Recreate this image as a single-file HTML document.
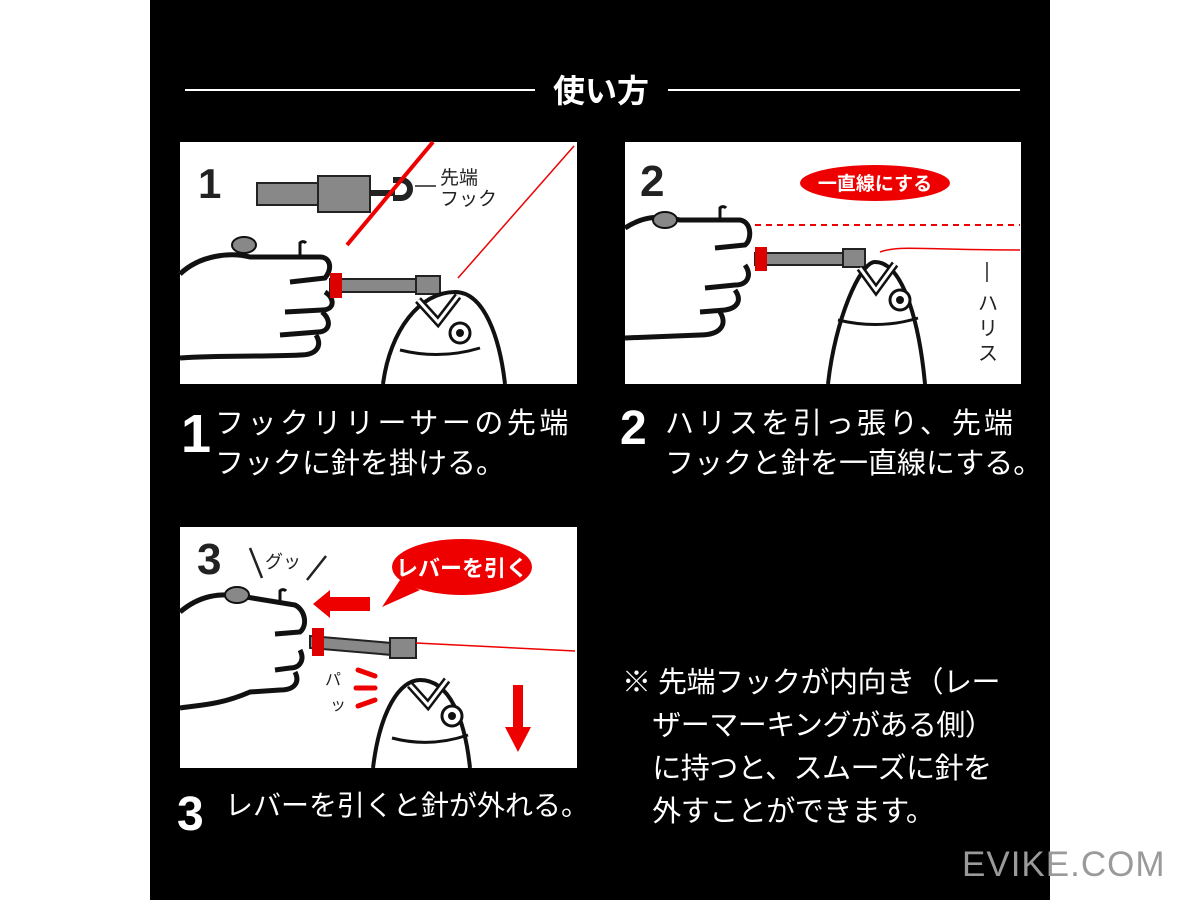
<!DOCTYPE html>
<html><head><meta charset="utf-8"><style>
html,body{margin:0;padding:0;background:#fff}
body{width:1200px;height:900px;position:relative;overflow:hidden;font-family:"Liberation Sans","Noto Sans CJK JP",sans-serif}
.bk{position:absolute;left:150px;top:0;width:900px;height:900px;background:#000}
.t{position:absolute;color:#fff;white-space:nowrap}
</style></head><body>
<div class="bk"></div>
<svg width="1200" height="900" style="position:absolute;left:0;top:0">
<line x1="185" y1="90" x2="535" y2="90" stroke="#fff" stroke-width="2"/>
<line x1="668" y1="90" x2="1020" y2="90" stroke="#fff" stroke-width="2"/>
<text x="601" y="102" fill="#fff" font-size="32" font-weight="bold" text-anchor="middle" font-family="Noto Sans CJK JP">使い方</text>

<!-- Panel 1 -->
<rect x="180" y="142" width="397" height="242" fill="#fff"/>
<text x="198" y="198" font-size="42" font-weight="bold" fill="#222">1</text>
<rect x="257" y="183" width="61" height="22" fill="#888" stroke="#222" stroke-width="2"/>
<rect x="318" y="176" width="52" height="36" fill="#888" stroke="#222" stroke-width="2"/>
<rect x="370" y="190" width="25" height="6" fill="#222"/>
<path d="M393 180 h8 a9 9 0 0 1 0 18 h-8" fill="none" stroke="#222" stroke-width="6"/>
<line x1="415" y1="186" x2="436" y2="186" stroke="#222" stroke-width="1.5"/>
<line x1="433" y1="142" x2="347" y2="245" stroke="#e00" stroke-width="4"/>
<line x1="574" y1="146" x2="458" y2="278" stroke="#e00" stroke-width="1.5"/>
<text x="440" y="184" font-size="19" fill="#222" font-family="Noto Sans CJK JP">先端</text>
<text x="440" y="205" font-size="19" fill="#222" font-family="Noto Sans CJK JP">フック</text>
<g stroke="#111" stroke-width="5" fill="#fff">
<path d="M180 274 C200 255 230 252 250 257 L320 257 C330 257 333 268 325 278 L290 282 M325 292 C335 298 335 310 322 310 L285 312 M322 312 C332 320 330 332 318 332 L280 335 M316 335 C322 345 318 355 300 355 C260 357 220 355 180 358" fill="none"/>
</g>
<ellipse cx="244" cy="245" rx="12" ry="8" fill="#888" stroke="#111" stroke-width="2"/>
<path d="M300 255 v-12 a4 4 0 0 1 6 0" stroke="#111" stroke-width="3" fill="none"/>
<rect x="330" y="279" width="110" height="13" fill="#888" stroke="#222" stroke-width="2"/>
<rect x="330" y="273" width="12" height="25" fill="#d00"/>
<rect x="416" y="276" width="24" height="18" fill="#888" stroke="#222" stroke-width="2"/>
<path d="M383 384 C390 330 420 292 455 292 C485 292 500 340 505 384" fill="#fff" stroke="#111" stroke-width="4"/>
<path d="M418 300 L438 322 L458 296" fill="none" stroke="#111" stroke-width="8"/>
<path d="M418 300 L438 322 L458 296" fill="none" stroke="#fff" stroke-width="3"/>
<circle cx="460" cy="333" r="10" fill="#fff" stroke="#111" stroke-width="3"/><circle cx="460" cy="333" r="4" fill="#111"/>
<path d="M400 350 Q440 360 480 348" fill="none" stroke="#111" stroke-width="3"/>

<!-- Panel 2 -->
<rect x="625" y="142" width="396" height="242" fill="#fff"/>
<text x="640" y="196" font-size="44" font-weight="bold" fill="#222">2</text>
<ellipse cx="875" cy="183" rx="75" ry="18" fill="#e00"/>
<text x="875" y="190" font-size="19" font-weight="bold" fill="#fff" text-anchor="middle" font-family="Noto Sans CJK JP">一直線にする</text>
<line x1="755" y1="225" x2="1020" y2="225" stroke="#e00" stroke-width="2" stroke-dasharray="6,5"/>
<path d="M625 228 C645 215 660 216 680 220 L740 220 C752 222 752 240 745 245 L715 248 M745 265 C752 275 748 285 735 285 L705 288 M735 290 C742 300 738 308 725 310 L700 312 M720 312 C728 325 720 335 700 335 L625 338" fill="none" stroke="#111" stroke-width="5"/>
<ellipse cx="665" cy="220" rx="12" ry="8" fill="#888" stroke="#111" stroke-width="2"/>
<path d="M720 218 v-10 a4 4 0 0 1 6 0" stroke="#111" stroke-width="3" fill="none"/>
<rect x="755" y="253" width="90" height="12" fill="#888" stroke="#222" stroke-width="2"/>
<rect x="755" y="247" width="12" height="24" fill="#d00"/>
<rect x="843" y="249" width="22" height="18" fill="#888" stroke="#222" stroke-width="2"/>
<path d="M880 252 C900 245 920 250 1020 250" fill="none" stroke="#e00" stroke-width="1.5"/>
<path d="M828 384 C835 320 860 262 875 262 C905 262 920 330 925 384" fill="#fff" stroke="#111" stroke-width="4"/>
<path d="M860 268 L876 290 L895 264" fill="none" stroke="#111" stroke-width="8"/>
<path d="M860 268 L876 290 L895 264" fill="none" stroke="#fff" stroke-width="3"/>
<circle cx="900" cy="300" r="10" fill="#fff" stroke="#111" stroke-width="3"/><circle cx="900" cy="300" r="4" fill="#111"/>
<path d="M838 320 Q880 330 918 318" fill="none" stroke="#111" stroke-width="3"/>
<line x1="987" y1="262" x2="987" y2="282" stroke="#222" stroke-width="1.5"/>
<text x="978" y="310" font-size="20" fill="#222" font-family="Noto Sans CJK JP">ハ</text>
<text x="978" y="335" font-size="20" fill="#222" font-family="Noto Sans CJK JP">リ</text>
<text x="978" y="360" font-size="20" fill="#222" font-family="Noto Sans CJK JP">ス</text>

<!-- Panel 3 -->
<rect x="180" y="527" width="397" height="241" fill="#fff"/>
<text x="197" y="574" font-size="44" font-weight="bold" fill="#222">3</text>
<line x1="250" y1="548" x2="262" y2="578" stroke="#222" stroke-width="2.5"/>
<text x="265" y="568" font-size="18" fill="#222" font-family="Noto Sans CJK JP">グッ</text>
<line x1="326" y1="556" x2="307" y2="580" stroke="#222" stroke-width="2.5"/>
<ellipse cx="462" cy="567" rx="70" ry="28" fill="#e00"/>
<path d="M400 580 L382 607 L420 590 Z" fill="#e00"/>
<text x="462" y="576" font-size="22" font-weight="bold" fill="#fff" text-anchor="middle" font-family="Noto Sans CJK JP">レバーを引く</text>
<path d="M370 597 L330 597 L330 590 L313 604 L330 618 L330 611 L370 611 Z" fill="#e00"/>
<path d="M180 612 C200 595 220 593 240 596 L295 605 C305 610 308 625 300 632 L275 634 M300 650 C305 660 300 668 290 668 L275 670 M295 672 C300 682 295 690 280 690 L250 692 C220 705 200 705 180 708" fill="none" stroke="#111" stroke-width="5"/>
<ellipse cx="237" cy="595" rx="12" ry="8" fill="#888" stroke="#111" stroke-width="2"/>
<path d="M280 603 v-12 a4 4 0 0 1 6 0" stroke="#111" stroke-width="3" fill="none"/>
<path d="M310 636 L392 643 L392 655 L310 648 Z" fill="#888" stroke="#222" stroke-width="2"/>
<rect x="312" y="628" width="12" height="28" fill="#d00"/>
<rect x="390" y="638" width="26" height="20" fill="#888" stroke="#222" stroke-width="2"/>
<line x1="416" y1="643" x2="575" y2="651" stroke="#e00" stroke-width="1.5"/>
<text x="325" y="685" font-size="16" fill="#222" font-family="Noto Sans CJK JP">パ</text>
<text x="330" y="710" font-size="16" fill="#222" font-family="Noto Sans CJK JP">ッ</text>
<g stroke="#e00" stroke-width="5" stroke-linecap="round"><line x1="358" y1="670" x2="375" y2="676"/><line x1="356" y1="688" x2="375" y2="688"/><line x1="358" y1="706" x2="375" y2="700"/></g>
<path d="M373 768 C380 710 400 680 420 680 C450 680 465 720 470 768" fill="#fff" stroke="#111" stroke-width="4"/>
<path d="M410 685 L428 705 L447 680" fill="none" stroke="#111" stroke-width="8"/>
<path d="M410 685 L428 705 L447 680" fill="none" stroke="#fff" stroke-width="3"/>
<circle cx="452" cy="716" r="10" fill="#fff" stroke="#111" stroke-width="3"/><circle cx="452" cy="716" r="4" fill="#111"/>
<path d="M392 738 Q430 748 468 735" fill="none" stroke="#111" stroke-width="3"/>
<path d="M513 685 L523 685 L523 727 L531 727 L518 752 L505 727 L513 727 Z" fill="#e00"/>

<!-- captions -->
<text x="181" y="452" font-size="54" font-weight="900" fill="#fff">1</text>
<text x="620" y="444" font-size="48" font-weight="900" fill="#fff">2</text>
<text x="177" y="830" font-size="48" font-weight="900" fill="#fff">3</text>
<text x="962" y="876" font-size="35" fill="#9a9a9a" letter-spacing="1">EVIKE.COM</text>
</svg>
<div class="t" style="left:215px;top:404px;font-size:29px;line-height:40px"><span style="letter-spacing:3.5px">フックリリーサーの先端</span><br><span style="letter-spacing:0px">フックに針を掛ける。</span></div>
<div class="t" style="left:665px;top:404px;font-size:29px;line-height:40px"><span style="letter-spacing:3px">ハリスを引っ張り、先端</span><br><span style="letter-spacing:0px">フックと針を一直線にする。</span></div>
<div class="t" style="left:225px;top:786px;font-size:28px;letter-spacing:0px;line-height:40px">レバーを引くと針が外れる。</div>
<div class="t" style="left:622px;top:662px;font-size:29px;letter-spacing:-0.5px;line-height:43px">※ 先端フックが内向き（レー<br>&nbsp;&nbsp;&nbsp;&nbsp;ザーマーキングがある側）<br>&nbsp;&nbsp;&nbsp;&nbsp;に持つと、スムーズに針を<br>&nbsp;&nbsp;&nbsp;&nbsp;外すことができます。</div>
</body></html>
